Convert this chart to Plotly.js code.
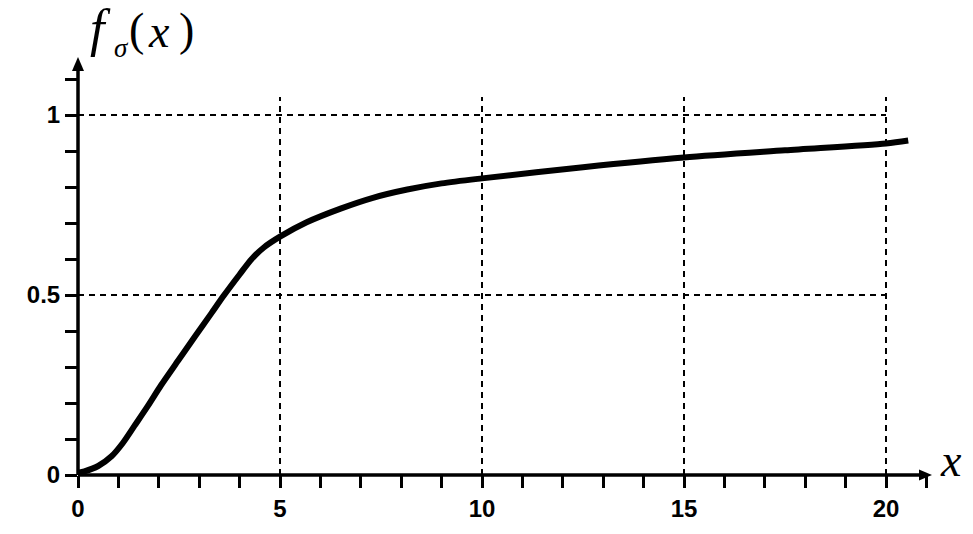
<!DOCTYPE html>
<html>
<head>
<meta charset="utf-8">
<script src="https://cdn.plot.ly/plotly-3.0.1.min.js"></script>
<style>html,body{margin:0;padding:0;background:#fff;}#chart{width:973px;height:534px;}</style>
</head>
<body>
<div id="chart"></div>
<script>
// data
var xValues = [0, 0.16, 0.5, 0.83, 1.11, 1.4, 1.73, 2.06, 2.48, 2.89, 3.3, 3.6, 4.0, 4.3, 4.6, 5.0, 5.66, 6.5, 7.3, 8.15, 9.0, 10, 12.5, 15, 17.5, 20, 20.55];
var fValues = [0.006, 0.01, 0.025, 0.052, 0.089, 0.137, 0.192, 0.250, 0.318, 0.384, 0.449, 0.497, 0.557, 0.600, 0.632, 0.662, 0.702, 0.740, 0.770, 0.793, 0.810, 0.824, 0.855, 0.882, 0.902, 0.921, 0.929];
var xTickVals = [0, 5, 10, 15, 20];
var xTickText = ['0', '5', '10', '15', '20'];
var yTickVals = [0, 0.5, 1];
var yTickText = ['0', '0.5', '1'];
var gridX = [5, 10, 15, 20];
var gridY = [0.5, 1];

var W = 973, H = 534;
var M = {l: 78, r: 41, t: 57, b: 59};
var PW = W - M.l - M.r, PH = H - M.t - M.b;
var xMax = PW / 40.4;
var yMax = PH / 360;

function px2fx(px) { return (px - M.l) / PW; }
function py2fy(py) { return (H - M.b - py) / PH; }

var shapes = [];
var dashStyle = {color: 'black', width: 2, dash: '6px,5px'};
gridX.forEach(function (g) {
  shapes.push({type: 'line', xref: 'x', yref: 'y', x0: g, x1: g, y0: 0, y1: 1.05, line: dashStyle, layer: 'below'});
});
gridY.forEach(function (g) {
  shapes.push({type: 'line', xref: 'x', yref: 'y', x0: 0, x1: 20, y0: g, y1: g, line: dashStyle, layer: 'below'});
});
var axW = 3.5;
shapes.push({type: 'line', xref: 'paper', yref: 'paper', x0: 0, y0: 0, x1: px2fx(922), y1: 0, line: {color: 'black', width: axW}});
shapes.push({type: 'line', xref: 'paper', yref: 'paper', x0: 0, y0: 0, x1: 0, y1: py2fy(67), line: {color: 'black', width: axW}});
var ox = M.l, oy = H - M.b;
shapes.push({type: 'path', xref: 'paper', yref: 'paper',
  path: 'M' + px2fx(932) + ',' + py2fy(oy) + ' L' + px2fx(919) + ',' + py2fy(oy - 5.5) + ' L' + px2fx(919) + ',' + py2fy(oy + 5.5) + ' Z',
  fillcolor: 'black', line: {width: 0}});
shapes.push({type: 'path', xref: 'paper', yref: 'paper',
  path: 'M' + px2fx(ox) + ',' + py2fy(57) + ' L' + px2fx(ox - 6) + ',' + py2fy(71) + ' L' + px2fx(ox + 6) + ',' + py2fy(71) + ' Z',
  fillcolor: 'black', line: {width: 0}});

function glyph(text, cx, cy, size) {
  return {xref: 'paper', yref: 'paper', x: 0, y: 0, xshift: cx - M.l, yshift: (H - M.b) - cy,
    xanchor: 'center', yanchor: 'middle', showarrow: false, text: text,
    font: {family: 'Liberation Serif, Times New Roman, serif', size: size, color: 'black'}};
}
var annotations = [
  glyph('<i>f</i>', 100, 28, 52),
  glyph('<i>σ</i>', 121, 48, 27),
  glyph('(', 136, 29, 46),
  glyph('<i>x</i>', 159, 31, 46),
  glyph(')', 186, 29, 46),
  glyph('<i>x</i>', 951, 460, 46)
];

var trace = {
  x: xValues, y: fValues, type: 'scatter', mode: 'lines',
  line: {color: 'black', width: 6, shape: 'spline', smoothing: 0.8},
  cliponaxis: false, hoverinfo: 'skip'
};

var tickFont = {family: 'Liberation Sans', size: 24, color: 'black', weight: 700};
var layout = {
  width: W, height: H,
  margin: M,
  font: {family: 'Liberation Sans', size: 24, color: 'black'},
  paper_bgcolor: 'white', plot_bgcolor: 'white',
  showlegend: false,
  xaxis: {range: [0, xMax], showgrid: false, zeroline: false, showline: false,
    tickmode: 'array', tickvals: xTickVals, ticktext: xTickText,
    ticks: 'outside', ticklen: 12, tickwidth: 3, tickcolor: 'black', tickfont: tickFont,
    minor: {tickmode: 'linear', tick0: 0, dtick: 1, ticks: 'outside', ticklen: 12, tickwidth: 3, tickcolor: 'black', showgrid: false},
    fixedrange: true},
  yaxis: {range: [0, yMax], showgrid: false, zeroline: false, showline: false,
    tickmode: 'array', tickvals: yTickVals, ticktext: yTickText,
    ticks: 'outside', ticklen: 12, tickwidth: 3, tickcolor: 'black', tickfont: tickFont,
    minor: {tickmode: 'linear', tick0: 0, dtick: 0.1, ticks: 'outside', ticklen: 12, tickwidth: 3, tickcolor: 'black', showgrid: false},
    fixedrange: true},
  shapes: shapes,
  annotations: annotations
};

Plotly.newPlot('chart', [trace], layout, {displayModeBar: false, staticPlot: true});
</script>
</body>
</html>
